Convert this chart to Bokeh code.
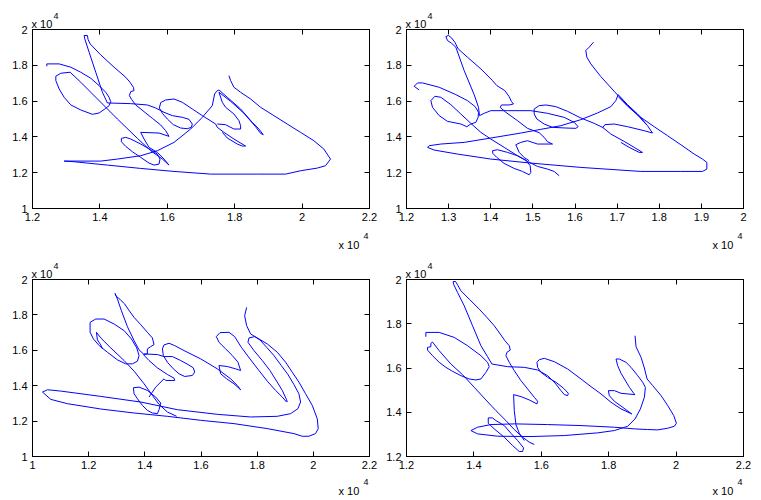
from bokeh.plotting import figure
from bokeh.models import Range1d, FixedTicker, LinearAxis, Label, CustomJSTickFormatter
from bokeh.layouts import column, row
from bokeh.embed import file_html
from bokeh.resources import INLINE

FONT = "Liberation Sans"
LINE_COLOR = "#0000ff"

# ---------------- tick values (axis units of 10^4) ----------------
TICKS_12_22 = [1.2, 1.4, 1.6, 1.8, 2.0, 2.2]
TICKS_12_20_STEP1 = [1.2, 1.3, 1.4, 1.5, 1.6, 1.7, 1.8, 1.9, 2.0]
TICKS_10_22 = [1.0, 1.2, 1.4, 1.6, 1.8, 2.0, 2.2]
TICKS_Y_10_20 = [1.0, 1.2, 1.4, 1.6, 1.8, 2.0]
TICKS_Y_12_20 = [1.2, 1.4, 1.6, 1.8, 2.0]

# ---------------- panel 1 pen strokes (x, y) in units of 10^4 ----------------
P1_STROKE_A = [(1.2425, 1.7948), (1.2425, 1.8078), (1.2791, 1.8078), (1.3136, 1.7892), (1.3433, 1.7612),
               (1.3729, 1.7276), (1.3976, 1.6866), (1.4174, 1.6493), (1.4273, 1.6213), (1.4322, 1.5970),
               (1.4273, 1.5746), (1.4174, 1.5597), (1.3976, 1.5336), (1.3779, 1.5261), (1.3433, 1.5504),
               (1.3136, 1.5784), (1.2939, 1.6213), (1.2791, 1.6679), (1.2692, 1.7146), (1.2692, 1.7388),
               (1.2840, 1.7556), (1.3117, 1.7612), (1.3433, 1.7052), (1.3927, 1.6119), (1.4520, 1.5000),
               (1.5113, 1.3918), (1.5508, 1.3228), (1.5854, 1.2761), (1.6051, 1.2425)]
P1_STROKE_B = [(1.6051, 1.2425), (1.5903, 1.2761), (1.5705, 1.3134), (1.5458, 1.3414), (1.5310, 1.3881),
               (1.5211, 1.4254), (1.5754, 1.4216), (1.6051, 1.4030), (1.5952, 1.4347), (1.5804, 1.4664),
               (1.5557, 1.5037), (1.5310, 1.5410), (1.5063, 1.5784), (1.4944, 1.6082), (1.4875, 1.6306),
               (1.4915, 1.6530), (1.5013, 1.6586), (1.4994, 1.6772), (1.4895, 1.7052), (1.4766, 1.7332),
               (1.4421, 1.7892), (1.4025, 1.8582), (1.3709, 1.9198), (1.3650, 1.9440), (1.3630, 1.9664),
               (1.3531, 1.9664), (1.3551, 1.9478), (1.3680, 1.8731), (1.3877, 1.7612), (1.4075, 1.6493),
               (1.4223, 1.5896), (1.4915, 1.5858), (1.5409, 1.5784), (1.5656, 1.5616), (1.5903, 1.5373),
               (1.6150, 1.5187), (1.6446, 1.5093), (1.6644, 1.4981), (1.6742, 1.4720), (1.6713, 1.4534),
               (1.6594, 1.4459), (1.6397, 1.4496), (1.6179, 1.4683), (1.6001, 1.5000), (1.5853, 1.5317),
               (1.5764, 1.5616), (1.5804, 1.5914), (1.5952, 1.6063), (1.6199, 1.6119), (1.6446, 1.5933),
               (1.6742, 1.5560), (1.7039, 1.5187), (1.7434, 1.4720), (1.7483, 1.4534), (1.7681, 1.4254),
               (1.7977, 1.3881), (1.8323, 1.3489), (1.8224, 1.3489), (1.8076, 1.3601), (1.7780, 1.3937),
               (1.7632, 1.4254)]
P1_STROKE_C = [(1.7829, 1.7425), (1.7879, 1.7146), (1.7977, 1.6772), (1.8175, 1.6493), (1.8471, 1.6119),
               (1.8768, 1.5653), (1.9163, 1.5187), (1.9558, 1.4720), (1.9953, 1.4254), (2.0349, 1.3787),
               (2.0645, 1.3321), (2.0843, 1.2761), (2.0694, 1.2388), (2.0447, 1.2257), (1.9953, 1.2108),
               (1.9509, 1.1922), (1.8669, 1.1922), (1.7286, 1.1922), (1.6199, 1.2071), (1.5211, 1.2239),
               (1.4223, 1.2425), (1.3235, 1.2612), (1.2939, 1.2649), (1.4025, 1.2649), (1.4519, 1.2761),
               (1.5211, 1.2948), (1.5705, 1.3228), (1.6199, 1.3694), (1.6693, 1.4440), (1.7039, 1.5093),
               (1.7335, 1.5746), (1.7404, 1.6399), (1.7464, 1.6549), (1.7533, 1.6623), (1.7780, 1.6213),
               (1.8175, 1.5560), (1.8521, 1.4813), (1.8718, 1.4440), (1.8847, 1.4123), (1.8768, 1.4198),
               (1.8619, 1.4571), (1.8274, 1.5317), (1.7879, 1.5989), (1.7533, 1.6493), (1.7632, 1.5933),
               (1.7730, 1.5653), (1.7977, 1.5280), (1.8126, 1.4907), (1.8175, 1.4627), (1.8175, 1.4440),
               (1.7977, 1.4440), (1.7730, 1.4683), (1.7483, 1.4720)]
P1_STROKE_D = [(1.4638, 1.3918), (1.4766, 1.3974), (1.4915, 1.3881), (1.5211, 1.3601), (1.5507, 1.3284),
               (1.5705, 1.3041), (1.5784, 1.2761), (1.5754, 1.2481), (1.5606, 1.2425), (1.5458, 1.2537),
               (1.5211, 1.2854), (1.4964, 1.3172), (1.4766, 1.3470), (1.4638, 1.3731), (1.4638, 1.3918)]

# ---------------- panel 2 ----------------
P2_STROKE_A = [(1.2301, 1.6623), (1.2182, 1.6828), (1.2261, 1.7015), (1.2380, 1.7015), (1.2776, 1.6772),
               (1.3171, 1.6362), (1.3448, 1.6026), (1.3630, 1.5690), (1.3709, 1.5373), (1.3701, 1.5093),
               (1.3646, 1.4813), (1.3527, 1.4720), (1.3432, 1.4571), (1.3290, 1.4720), (1.2973, 1.4869),
               (1.2776, 1.5187), (1.2617, 1.5653), (1.2578, 1.6026), (1.2673, 1.6269), (1.2815, 1.6213),
               (1.3052, 1.5802), (1.3290, 1.5280), (1.3527, 1.4757), (1.3765, 1.4254), (1.4002, 1.3880),
               (1.4319, 1.3414), (1.4635, 1.2948), (1.4872, 1.2630), (1.5110, 1.2351), (1.5347, 1.2201),
               (1.5505, 1.2071), (1.5624, 1.1828)]
P2_STROKE_B = [(1.4912, 1.2668), (1.4793, 1.2854), (1.4675, 1.3134), (1.4595, 1.3563), (1.4714, 1.3694),
               (1.4872, 1.3787), (1.5110, 1.3601), (1.5466, 1.3601), (1.5347, 1.3731), (1.5268, 1.3974),
               (1.5149, 1.4235), (1.4872, 1.4478), (1.4635, 1.4907), (1.4358, 1.5373), (1.4224, 1.5653),
               (1.4255, 1.5784), (1.4437, 1.5784), (1.4540, 1.5839), (1.4493, 1.5970), (1.4437, 1.6250),
               (1.4334, 1.6586), (1.4144, 1.6866), (1.4042, 1.7146), (1.3765, 1.7798), (1.3448, 1.8451),
               (1.3227, 1.8918), (1.3147, 1.9291), (1.3068, 1.9534), (1.2997, 1.9664), (1.2934, 1.9608),
               (1.2973, 1.9384), (1.3068, 1.9235), (1.3171, 1.9011), (1.3369, 1.7705), (1.3606, 1.6362),
               (1.3709, 1.5653), (1.3733, 1.5187), (1.3844, 1.5317), (1.4002, 1.5466), (1.4398, 1.5466),
               (1.4952, 1.5466), (1.5347, 1.5317), (1.5743, 1.5093), (1.5980, 1.4813), (1.6075, 1.4571),
               (1.6020, 1.4478), (1.5782, 1.4496), (1.5466, 1.4534), (1.5268, 1.4720), (1.5094, 1.5000),
               (1.5031, 1.5280), (1.5031, 1.5560), (1.5149, 1.5746), (1.5308, 1.5784), (1.5545, 1.5690),
               (1.5822, 1.5429), (1.6139, 1.5056), (1.6455, 1.4757), (1.6653, 1.4534), (1.6851, 1.4160),
               (1.7167, 1.3750), (1.7405, 1.3414), (1.7602, 1.3134), (1.7523, 1.3134), (1.7286, 1.3414),
               (1.7088, 1.3694)]
P2_STROKE_C = [(1.6439, 1.9291), (1.6336, 1.9011), (1.6257, 1.8825), (1.6281, 1.8451), (1.6376, 1.8078),
               (1.6613, 1.7369), (1.6930, 1.6548), (1.7246, 1.5746), (1.7563, 1.5093), (1.7879, 1.4571),
               (1.8196, 1.4067), (1.8512, 1.3563), (1.8829, 1.3041), (1.9027, 1.2761), (1.9130, 1.2575),
               (1.9130, 1.2201), (1.9027, 1.2071), (1.8512, 1.2071), (1.7563, 1.2071), (1.6139, 1.2295),
               (1.4952, 1.2537), (1.4002, 1.2761), (1.3211, 1.3041), (1.2657, 1.3265), (1.2499, 1.3414),
               (1.2538, 1.3507), (1.2815, 1.3601), (1.3369, 1.3694), (1.4002, 1.3937), (1.4714, 1.4216),
               (1.5189, 1.4422), (1.5664, 1.4627), (1.6139, 1.4963), (1.6534, 1.5336), (1.6851, 1.5690),
               (1.6969, 1.6026), (1.7025, 1.6362), (1.7246, 1.5802), (1.7484, 1.5280), (1.7721, 1.4627),
               (1.7840, 1.4216), (1.7642, 1.4347), (1.7246, 1.4571), (1.6930, 1.4720), (1.6708, 1.4683),
               (1.6653, 1.4496)]
P2_STROKE_D = [(1.7041, 1.6213), (1.7262, 1.5690), (1.7500, 1.5187), (1.7697, 1.4683)]
P2_STROKE_E = [(1.4042, 1.3228), (1.4160, 1.3283), (1.4398, 1.3134), (1.4635, 1.2948), (1.4833, 1.2705),
               (1.4936, 1.2388), (1.4952, 1.2015), (1.4912, 1.1884), (1.4754, 1.2071), (1.4556, 1.2239),
               (1.4318, 1.2519), (1.4144, 1.2854), (1.4050, 1.3078), (1.4042, 1.3228)]

# ---------------- panel 3 ----------------
P3_STROKE_A = [(1.2051, 1.7017), (1.2051, 1.7580), (1.2253, 1.7767), (1.2549, 1.7767), (1.2905, 1.7486),
               (1.3261, 1.7111), (1.3522, 1.6642), (1.3712, 1.6135), (1.3795, 1.5704), (1.3735, 1.5385),
               (1.3557, 1.5234), (1.3320, 1.5234), (1.3024, 1.5460), (1.2668, 1.5891), (1.2372, 1.6266),
               (1.2170, 1.6642), (1.2051, 1.7017)]
P3_STROKE_B = [(1.2490, 1.6079), (1.2431, 1.6304), (1.2312, 1.6585), (1.2277, 1.7017), (1.2431, 1.6698),
               (1.2787, 1.6135), (1.3261, 1.5422), (1.3617, 1.4822), (1.3972, 1.4109), (1.4269, 1.3452),
               (1.4506, 1.2945), (1.4802, 1.2514), (1.5134, 1.2270)]
P3_STROKE_C = [(1.4150, 1.3358), (1.4387, 1.3921), (1.4684, 1.4390), (1.4743, 1.4296), (1.5063, 1.4296),
               (1.5040, 1.4428), (1.4802, 1.4634), (1.4447, 1.5009), (1.4150, 1.5422), (1.3949, 1.5760),
               (1.4091, 1.5797), (1.4091, 1.6079), (1.4210, 1.6210), (1.4328, 1.6323), (1.4269, 1.6698),
               (1.4091, 1.7017), (1.3854, 1.7448), (1.3617, 1.7861), (1.3403, 1.8330), (1.3285, 1.8612),
               (1.3142, 1.8837), (1.2965, 1.9081), (1.2941, 1.9212), (1.3024, 1.8893), (1.3166, 1.8236),
               (1.3380, 1.7336), (1.3617, 1.6548), (1.3795, 1.6022), (1.3949, 1.5797), (1.4447, 1.5760),
               (1.4684, 1.5647), (1.4980, 1.5647), (1.5277, 1.5422), (1.5538, 1.5197), (1.5727, 1.5009),
               (1.5775, 1.4765), (1.5692, 1.4578), (1.5419, 1.4521), (1.5218, 1.4672), (1.5016, 1.4953),
               (1.4802, 1.5328), (1.4660, 1.5704), (1.4625, 1.6079), (1.4684, 1.6304), (1.4862, 1.6398),
               (1.5063, 1.6266), (1.5395, 1.5985), (1.5988, 1.5516), (1.6581, 1.4953), (1.7056, 1.4390),
               (1.7293, 1.4015), (1.7411, 1.3771)]
P3_STROKE_D = [(1.7411, 1.3771), (1.7174, 1.4109), (1.6913, 1.4390), (1.6700, 1.4672), (1.6640, 1.5141),
               (1.6937, 1.5084), (1.7233, 1.4953), (1.7411, 1.4859), (1.7316, 1.5328), (1.7115, 1.5704),
               (1.6878, 1.6079), (1.6640, 1.6454), (1.6546, 1.6773), (1.6676, 1.6998), (1.6996, 1.7017),
               (1.7198, 1.6773), (1.7435, 1.6173), (1.7743, 1.5516), (1.8063, 1.4859), (1.8360, 1.4259),
               (1.8656, 1.3733), (1.8894, 1.3358), (1.9048, 1.3077)]
P3_STROKE_E = [(1.7625, 1.8424), (1.7554, 1.7955), (1.7625, 1.7392), (1.7767, 1.6923), (1.8004, 1.6698),
               (1.8360, 1.6360), (1.8716, 1.5891), (1.9012, 1.5328), (1.9249, 1.4765), (1.9486, 1.4203),
               (1.9724, 1.3546), (1.9961, 1.2889), (2.0139, 1.2139), (2.0174, 1.1576), (2.0079, 1.1294),
               (1.9842, 1.1144), (1.9605, 1.1144), (1.9308, 1.1294), (1.8360, 1.1576), (1.7174, 1.1857),
               (1.5988, 1.2045), (1.4802, 1.2270), (1.3617, 1.2458), (1.2431, 1.2683), (1.1245, 1.2983),
               (1.0652, 1.3227), (1.0356, 1.3640), (1.0534, 1.3771), (1.1008, 1.3696), (1.2431, 1.3396),
               (1.3854, 1.3077), (1.5158, 1.2645), (1.6581, 1.2383), (1.7767, 1.2233), (1.8716, 1.2270),
               (1.9190, 1.2420), (1.9451, 1.2702), (1.9546, 1.3077), (1.9486, 1.3546), (1.9308, 1.4071),
               (1.9095, 1.4634), (1.8858, 1.5141), (1.8597, 1.5704), (1.8336, 1.6173), (1.8099, 1.6585),
               (1.7909, 1.6773), (1.7708, 1.6698), (1.7672, 1.6454), (1.7886, 1.5985), (1.8182, 1.5422),
               (1.8455, 1.4859), (1.8692, 1.4259), (1.8894, 1.3733), (1.9048, 1.3208), (1.9071, 1.3077)]
P3_STROKE_F = [(1.3593, 1.3884), (1.3795, 1.3921), (1.4091, 1.3733), (1.4387, 1.3358), (1.4565, 1.3021),
               (1.4506, 1.2645), (1.4447, 1.2420), (1.4269, 1.2458), (1.4091, 1.2608), (1.3913, 1.2889),
               (1.3735, 1.3264), (1.3617, 1.3546), (1.3593, 1.3884)]

# ---------------- panel 4 ----------------
P4_STROKE_A = [(1.2574, 1.7413), (1.2574, 1.7609), (1.2970, 1.7609), (1.3416, 1.7383), (1.3812, 1.7007),
               (1.4208, 1.6556), (1.4406, 1.6256), (1.4455, 1.6060), (1.4356, 1.5804), (1.4208, 1.5504),
               (1.4059, 1.5459), (1.3861, 1.5504), (1.3614, 1.5654), (1.3366, 1.5850), (1.3168, 1.6030),
               (1.2970, 1.6256), (1.2772, 1.6556), (1.2624, 1.6812), (1.2624, 1.6932), (1.2723, 1.6962),
               (1.2723, 1.7113), (1.2772, 1.7173), (1.2970, 1.6782), (1.3317, 1.6180), (1.3663, 1.5699),
               (1.4010, 1.5128), (1.4356, 1.4556), (1.4653, 1.4075), (1.4950, 1.3624), (1.5198, 1.3218),
               (1.5445, 1.2872), (1.5643, 1.2647), (1.5792, 1.2541)]
P4_STROKE_B = [(1.5495, 1.2722), (1.5346, 1.3052), (1.5247, 1.3443), (1.5198, 1.4075), (1.5178, 1.4797),
               (1.5396, 1.4707), (1.5643, 1.4556), (1.5871, 1.4376), (1.5891, 1.4496), (1.5792, 1.4677),
               (1.5594, 1.5053), (1.5396, 1.5429), (1.5198, 1.5880), (1.5049, 1.6256), (1.4950, 1.6556),
               (1.4980, 1.6707), (1.5079, 1.6812), (1.5049, 1.7007), (1.4921, 1.7233), (1.4782, 1.7534),
               (1.4604, 1.7910), (1.4386, 1.8286), (1.4158, 1.8662), (1.3861, 1.9113), (1.3614, 1.9489),
               (1.3515, 1.9759), (1.3455, 1.9910), (1.3386, 1.9910), (1.3396, 1.9789), (1.3515, 1.9414),
               (1.3713, 1.8812), (1.3960, 1.7910), (1.4208, 1.7007), (1.4406, 1.6511), (1.4534, 1.6180),
               (1.5000, 1.6060), (1.5495, 1.6030), (1.5891, 1.5910), (1.6188, 1.5654), (1.6406, 1.5323),
               (1.6584, 1.4977), (1.6683, 1.4797), (1.6782, 1.4752), (1.6802, 1.4857), (1.6663, 1.5083),
               (1.6435, 1.5353), (1.6188, 1.5579), (1.5990, 1.5804), (1.5891, 1.6030), (1.5871, 1.6256),
               (1.5940, 1.6376), (1.6089, 1.6436), (1.6386, 1.6286), (1.6782, 1.5955), (1.7178, 1.5504),
               (1.7475, 1.5158), (1.7772, 1.4827), (1.8069, 1.4451), (1.8366, 1.4150), (1.8683, 1.3925)]
P4_STROKE_C = [(1.8782, 1.7459), (1.8811, 1.6962), (1.8960, 1.6481), (1.9059, 1.6000), (1.9138, 1.5504),
               (1.9306, 1.5203), (1.9554, 1.4752), (1.9752, 1.4301), (1.9930, 1.3850), (2.0009, 1.3504),
               (1.9950, 1.3368), (1.9752, 1.3278), (1.9455, 1.3203), (1.9158, 1.3218), (1.8762, 1.3248),
               (1.8168, 1.3323), (1.7178, 1.3398), (1.6188, 1.3443), (1.5198, 1.3474), (1.4505, 1.3443),
               (1.4109, 1.3323), (1.3911, 1.3173), (1.4109, 1.3022), (1.4703, 1.2917), (1.5693, 1.2902),
               (1.6683, 1.2947), (1.7673, 1.3068), (1.8168, 1.3173), (1.8564, 1.3368), (1.8782, 1.3699),
               (1.8940, 1.4150), (1.9059, 1.4677), (1.9088, 1.5128), (1.9009, 1.5353), (1.8861, 1.5654),
               (1.8663, 1.6030), (1.8514, 1.6256), (1.8316, 1.6406), (1.8217, 1.6406), (1.8267, 1.6105),
               (1.8366, 1.5759), (1.8485, 1.5459), (1.8613, 1.5128), (1.8742, 1.4857), (1.8782, 1.4797),
               (1.8564, 1.4827), (1.8366, 1.4857), (1.8168, 1.4977), (1.7990, 1.4977), (1.8019, 1.4752),
               (1.8168, 1.4496), (1.8415, 1.4226), (1.8683, 1.3925)]
P4_STROKE_D = [(1.4426, 1.3744), (1.4554, 1.3744), (1.4653, 1.3624), (1.4901, 1.3398), (1.5099, 1.3052),
               (1.5297, 1.2722), (1.5475, 1.2391), (1.5445, 1.2225), (1.5346, 1.2225), (1.5148, 1.2496),
               (1.4901, 1.2872), (1.4604, 1.3248), (1.4426, 1.3504), (1.4426, 1.3744)]

P1_STROKES = [P1_STROKE_A, P1_STROKE_B, P1_STROKE_C, P1_STROKE_D]
P2_STROKES = [P2_STROKE_A, P2_STROKE_B, P2_STROKE_C, P2_STROKE_D, P2_STROKE_E]
P3_STROKES = [P3_STROKE_A, P3_STROKE_B, P3_STROKE_C, P3_STROKE_D, P3_STROKE_E, P3_STROKE_F]
P4_STROKES = [P4_STROKE_A, P4_STROKE_B, P4_STROKE_C, P4_STROKE_D]

FMT_CODE = "return String(Math.round(tick * 10) / 10);"


def style_axis(ax, ticks, show_labels, standoff):
    ax.ticker = FixedTicker(ticks=ticks)
    ax.formatter = CustomJSTickFormatter(code=FMT_CODE)
    ax.major_tick_in = 5
    ax.major_tick_out = 0
    ax.minor_tick_in = 0
    ax.minor_tick_out = 0
    ax.axis_line_color = "black"
    ax.axis_line_width = 1
    ax.major_tick_line_color = "black"
    ax.major_tick_line_width = 1
    ax.major_label_text_font = FONT
    ax.major_label_text_color = "black"
    if show_labels:
        ax.major_label_text_font_size = "11px"
        ax.major_label_standoff = standoff
    else:
        ax.major_label_text_color = None
        ax.major_label_text_font_size = "1px"
        ax.major_label_standoff = 0


def multiplier_label(x, y, dx, dy, text, size):
    return Label(x=x, y=y, x_offset=dx, y_offset=dy, text=text,
                 text_font=FONT, text_font_size=size, text_color="black",
                 text_align="left", text_baseline="alphabetic")


def panel(strokes, xr, yr, xticks, yticks, width, height, borders, bottom_label_dy):
    bl, br, bt, bb = borders
    p = figure(width=width, height=height,
               x_range=Range1d(*xr), y_range=Range1d(*yr),
               output_backend="svg", toolbar_location=None,
               min_border_left=bl, min_border_right=br,
               min_border_top=bt, min_border_bottom=bb)
    p.title = None
    p.xgrid.visible = False
    p.ygrid.visible = False
    p.background_fill_color = "white"
    p.border_fill_color = "white"
    p.outline_line_color = "black"
    p.outline_line_width = 1
    xs = [[pt[0] for pt in s] for s in strokes]
    ys = [[pt[1] for pt in s] for s in strokes]
    p.multi_line(xs, ys, line_color=LINE_COLOR, line_width=1)

    style_axis(p.xaxis[0], xticks, True, 4)
    style_axis(p.yaxis[0], yticks, True, 5)
    top = LinearAxis()
    style_axis(top, xticks, False, 0)
    right = LinearAxis()
    style_axis(right, yticks, False, 0)
    p.add_layout(top, "above")
    p.add_layout(right, "right")

    # "x 10^4" multiplier labels, placed in the side panels so they are not clipped to the frame
    p.add_layout(multiplier_label(xr[0], yr[1], -1, 6, "x 10", "11px"), "above")
    p.add_layout(multiplier_label(xr[0], yr[1], 21, 14, "4", "9px"), "above")
    p.add_layout(multiplier_label(xr[1], yr[0], -31, bottom_label_dy, "x 10", "11px"), "below")
    p.add_layout(multiplier_label(xr[1], yr[0], -6, bottom_label_dy + 9, "4", "9px"), "below")
    return p


# page origin is (0, 0): frames at x 32..369 / 406..743, y 29..208 / 279..456
p1 = panel(P1_STROKES, (1.2, 2.2), (1.0, 2.0), TICKS_12_22, TICKS_Y_10_20, 382, 250, (32, 13, 29, 42), -36)
p2 = panel(P2_STROKES, (1.2, 2.0), (1.0, 2.0), TICKS_12_20_STEP1, TICKS_Y_10_20, 378, 250, (24, 17, 29, 42), -36)
p3 = panel(P3_STROKES, (1.0, 2.2), (1.0, 2.0), TICKS_10_22, TICKS_Y_10_20, 382, 249, (32, 13, 29, 43), -34)
p4 = panel(P4_STROKES, (1.2, 2.2), (1.2, 2.0), TICKS_12_22, TICKS_Y_12_20, 378, 249, (24, 17, 29, 43), -34)

layout = column(row(p1, p2, spacing=0), row(p3, p4, spacing=0), spacing=0)

open("out.html", "w").write(file_html(layout, INLINE))
